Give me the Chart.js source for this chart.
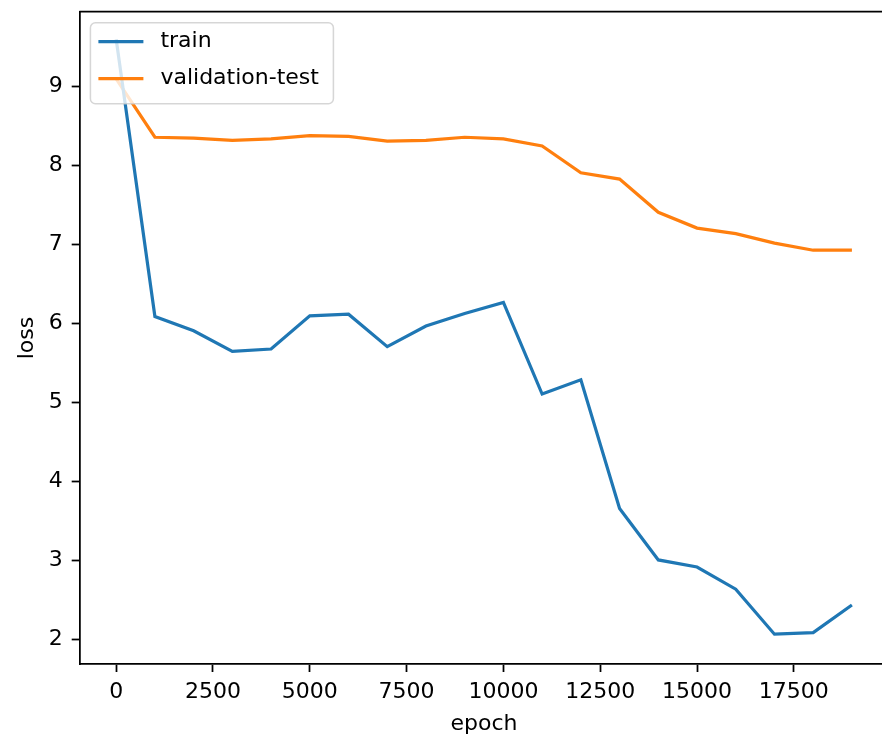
<!DOCTYPE html>
<html>
<head>
<meta charset="utf-8">
<script src="https://cdn.jsdelivr.net/npm/chart.js@4/dist/chart.umd.min.js"></script>
<style>
  body { margin: 0; overflow: hidden; background: #fff; }
  #wrap { position: absolute; left: 0; top: 0; width: 900px; height: 741px; }
</style>
</head>
<body>
<div id="wrap"><canvas id="lossChart" width="900" height="741"></canvas></div>
<script>
// values
const epochs = [0, 1000, 2000, 3000, 4000, 5000, 6000, 7000, 8000, 9000,
  10000, 11000, 12000, 13000, 14000, 15000, 16000, 17000, 18000, 19000];
const trainLoss = [9.6, 6.09, 5.91, 5.65, 5.68, 6.10, 6.12, 5.71, 5.97, 6.13,
  6.27, 5.11, 5.29, 3.66, 3.01, 2.92, 2.64, 2.07, 2.09, 2.44];
const valLoss = [9.1, 8.36, 8.35, 8.32, 8.34, 8.38, 8.37, 8.31, 8.32, 8.36,
  8.34, 8.25, 7.91, 7.83, 7.41, 7.21, 7.14, 7.02, 6.93, 6.93];
const xTicks = [0, 2500, 5000, 7500, 10000, 12500, 15000, 17500];
const yTicks = [2, 3, 4, 5, 6, 7, 8, 9];

const FONT = 'DejaVu Sans';
const spineW = 1.76;

// chart.js reserves room for overflowing tick labels, we don't want that here
function noPad(axis) {
  axis.paddingLeft = 0;
  axis.paddingRight = 0;
  axis.paddingTop = 0;
  axis.paddingBottom = 0;
}

// top spine + matplotlib style legend
// (the plot area runs past the right edge of the picture, so no right spine shows)
const frameAndLegend = {
  id: 'frameAndLegend',
  afterDatasetsDraw(chart) {
    const { ctx, chartArea: a } = chart;
    ctx.save();
    ctx.strokeStyle = '#000';
    ctx.lineWidth = spineW;
    ctx.beginPath();
    ctx.moveTo(a.left, a.top);
    ctx.lineTo(a.right, a.top);
    ctx.stroke();
    ctx.restore();
  },
  afterDraw(chart) {
    const { ctx, chartArea: a } = chart;
    const x0 = a.left + 11, y0 = a.top + 11;
    const w = 243, h = 81, r = 5;
    ctx.save();
    ctx.beginPath();
    ctx.roundRect(x0, y0, w, h, r);
    ctx.fillStyle = 'rgba(255,255,255,0.8)';
    ctx.fill();
    ctx.strokeStyle = 'rgba(204,204,204,0.8)';
    ctx.lineWidth = 1.5;
    ctx.stroke();
    ctx.font = '22px "' + FONT + '"';
    ctx.textBaseline = 'middle';
    ctx.fillStyle = '#000';
    chart.data.datasets.forEach((ds, i) => {
      const cy = y0 + 19 + i * 37;
      ctx.strokeStyle = ds.borderColor;
      ctx.lineWidth = ds.borderWidth;
      ctx.beginPath();
      ctx.moveTo(x0 + 8, cy);
      ctx.lineTo(x0 + 53, cy);
      ctx.stroke();
      ctx.fillText(ds.label, x0 + 70, cy);
    });
    ctx.restore();
  }
};

new Chart(document.getElementById('lossChart'), {
  type: 'line',
  data: {
    datasets: [
      {
        label: 'train',
        data: epochs.map((e, i) => ({ x: e, y: trainLoss[i] })),
        borderColor: '#1f77b4',
        borderWidth: 3.2,
        pointRadius: 0,
        tension: 0
      },
      {
        label: 'validation-test',
        data: epochs.map((e, i) => ({ x: e, y: valLoss[i] })),
        borderColor: '#ff7f0e',
        borderWidth: 3.2,
        pointRadius: 0,
        tension: 0
      }
    ]
  },
  options: {
    responsive: false,
    animation: false,
    devicePixelRatio: 1,
    layout: { padding: { left: 0, top: 11.7, right: 11.3, bottom: 0 } },
    plugins: { legend: { display: false }, tooltip: { enabled: false } },
    scales: {
      x: {
        type: 'linear',
        min: -950,
        max: 19950,
        afterBuildTicks: axis => { axis.ticks = xTicks.map(v => ({ value: v })); },
        afterFit: axis => { axis.height = 76.7; noPad(axis); },
        grid: { drawOnChartArea: false, tickLength: 7.7, tickWidth: spineW, tickColor: '#000' },
        border: { color: '#000', width: spineW },
        ticks: { color: '#000', padding: 7, maxRotation: 0, autoSkip: false,
          font: { family: FONT, size: 22 }, callback: v => String(v) },
        title: { display: true, text: 'epoch', color: '#000',
          font: { family: FONT, size: 22 }, padding: { top: 0, bottom: 4 } }
      },
      y: {
        min: 1.689,
        max: 9.949,
        afterBuildTicks: axis => { axis.ticks = yTicks.map(v => ({ value: v })); },
        afterFit: axis => { axis.width = 79.4; noPad(axis); },
        grid: { drawOnChartArea: false, tickLength: 7.7, tickWidth: spineW, tickColor: '#000' },
        border: { color: '#000', width: spineW },
        ticks: { color: '#000', padding: 9, autoSkip: false,
          font: { family: FONT, size: 22 }, callback: v => String(v) },
        title: { display: true, text: 'loss', color: '#000',
          font: { family: FONT, size: 22 }, padding: { top: 13.7, bottom: 0 } }
      }
    }
  },
  plugins: [frameAndLegend]
});
</script>
</body>
</html>
